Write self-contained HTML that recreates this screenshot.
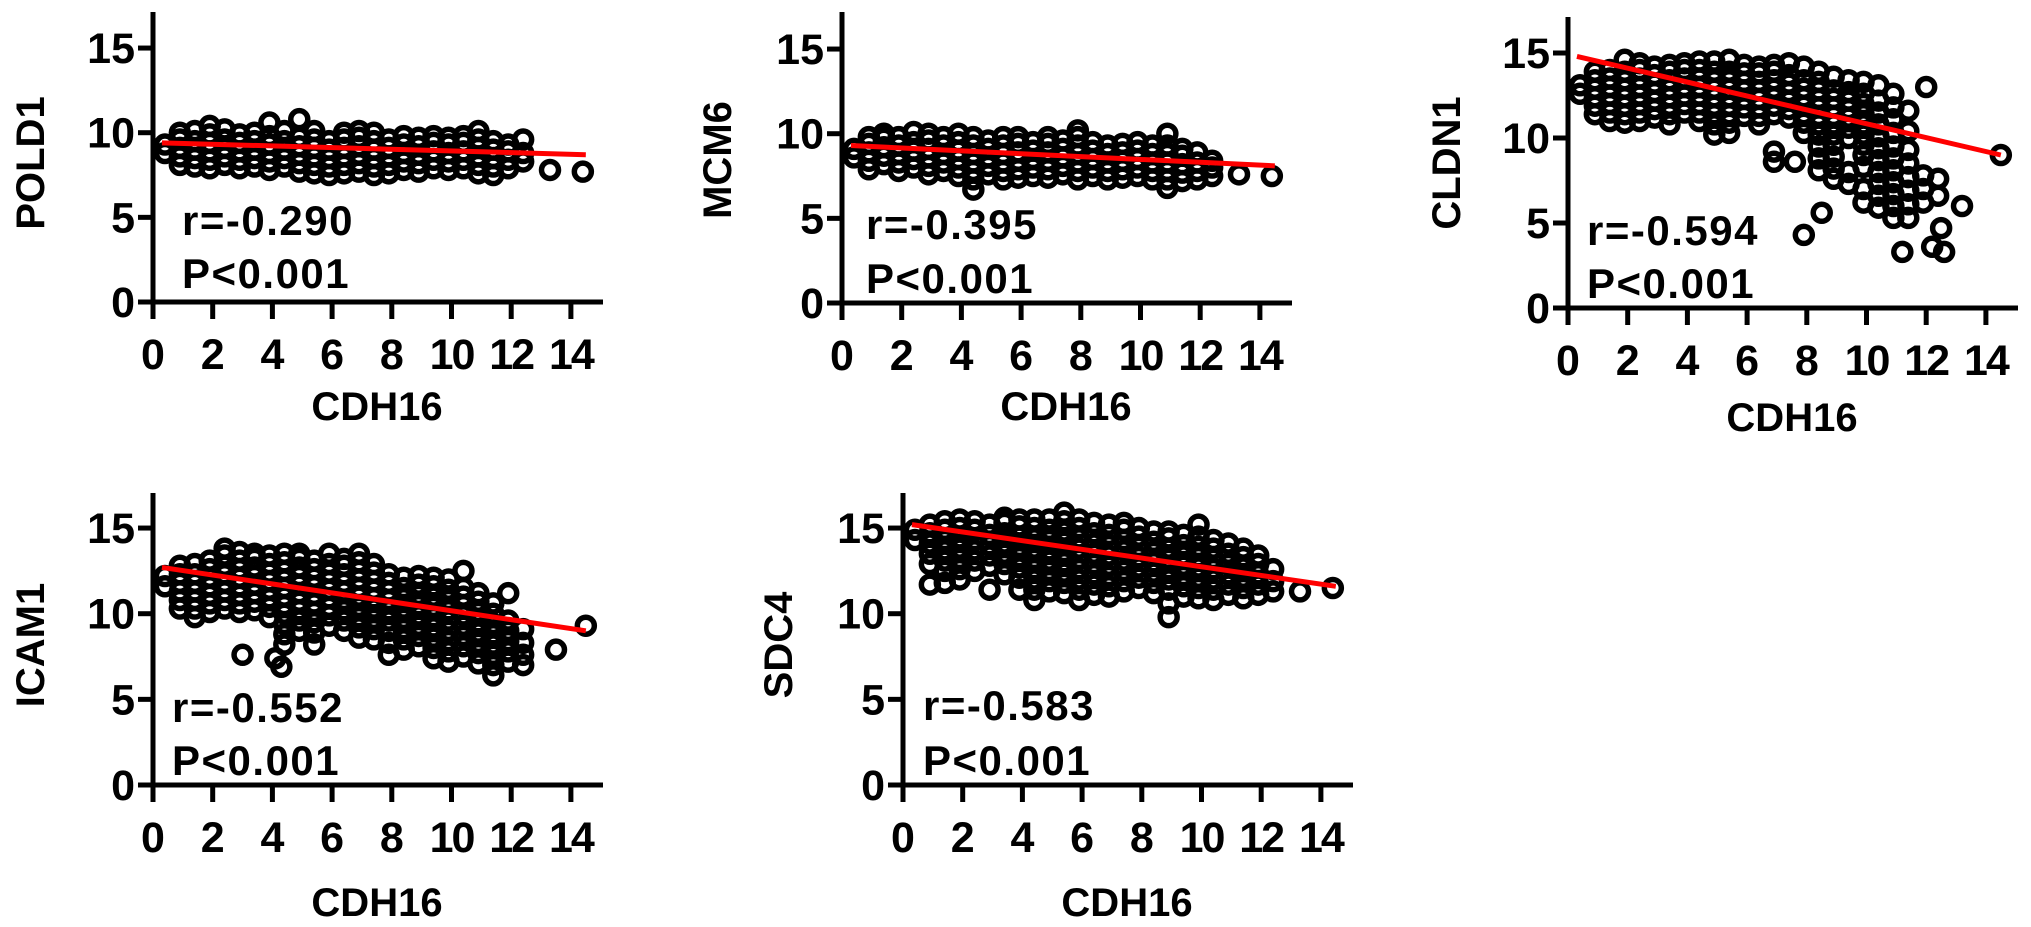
<!DOCTYPE html>
<html><head><meta charset="utf-8"><style>
html,body{margin:0;padding:0;background:#fff;width:2031px;height:927px;overflow:hidden}
svg{display:block}
text{font-family:"Liberation Sans",Arial,sans-serif;font-weight:bold;fill:#000}
</style></head><body>
<svg id="chart" width="2031" height="927" viewBox="0 0 2031 927" xmlns="http://www.w3.org/2000/svg"></svg>
<script>
// ---- shared data ----
const xTicks = [0,2,4,6,8,10,12,14];
const yTicks = [0,5,10,15];
const colX = [0.4,0.9,1.4,1.9,2.4,2.9,3.4,3.9,4.4,4.9,5.4,5.9,6.4,6.9,7.4,7.9,8.4,8.9,9.4,9.9,10.4,10.9,11.4,11.9,12.4];
const geneNames = ["POLD1","MCM6","CLDN1","ICAM1","SDC4"];
const rValues = ["-0.290","-0.395","-0.594","-0.552","-0.583"];
const pValues = ["P<0.001","P<0.001","P<0.001","P<0.001","P<0.001"];

// POLD1
const pold1Y = [[8.8,9.3],[8.1,8.6,9.1,9.6,10.0],[8.0,8.5,9.0,9.5,10.1],[7.9,8.4,8.9,9.4,9.9,10.4],[8.1,8.6,9.1,9.6,10.2],[7.9,8.4,8.9,9.4,9.9],[8.0,8.5,9.0,9.5,10.0],[7.8,8.3,8.8,9.3,9.8,10.6],[8.0,8.5,9.0,9.5,10.1],[7.7,8.2,8.7,9.2,9.7,10.8],[7.6,8.1,8.6,9.1,9.6,10.1],[7.5,8.0,8.5,9.0,9.5],[7.6,8.1,8.6,9.1,9.6,10.0],[7.7,8.2,8.7,9.2,9.7,10.1],[7.5,8.0,8.5,9.0,9.5,10.0],[7.6,8.1,8.6,9.1,9.6],[7.8,8.3,8.8,9.3,9.8],[7.7,8.2,8.7,9.2,9.7],[7.9,8.4,8.9,9.4,9.8],[7.8,8.3,8.8,9.3,9.7],[7.9,8.4,8.9,9.4,9.8],[7.6,8.1,8.6,9.1,9.6,10.1],[7.5,8.0,8.5,9.0,9.5],[7.9,8.4,8.9,9.3],[8.3,8.8,9.6]];
const pold1OutX = [13.3,14.4];
const pold1OutY = [7.8,7.7];
const pold1Fit = [0.3,9.4,14.5,8.7];

// MCM6
const mcm6Y = [[8.6,9.1],[7.9,8.4,8.9,9.4,9.8],[8.2,8.7,9.2,9.7,10.0],[7.8,8.3,8.8,9.3,9.8],[8.0,8.5,9.0,9.5,10.1],[7.6,8.1,8.6,9.1,9.6,10.0],[7.8,8.3,8.8,9.3,9.8],[7.5,8.0,8.5,9.0,9.5,10.0],[6.7,7.3,7.8,8.3,8.8,9.3,9.8],[7.6,8.1,8.6,9.1,9.6],[7.3,7.8,8.3,8.8,9.3,9.8],[7.4,7.9,8.4,8.9,9.4,9.8],[7.5,8.0,8.5,9.0,9.5],[7.4,7.9,8.4,8.9,9.4,9.8],[7.6,8.1,8.6,9.1,9.6],[7.3,7.8,8.3,8.8,9.3,9.8,10.2],[7.5,8.0,8.5,9.0,9.5],[7.3,7.8,8.3,8.8,9.3],[7.4,7.9,8.4,8.9,9.4],[7.5,8.0,8.5,9.0,9.5],[7.3,7.8,8.3,8.8,9.3],[6.8,7.3,7.8,8.3,8.8,9.3,10.0],[7.2,7.7,8.2,8.7,9.1],[7.3,7.8,8.3,8.9],[7.5,8.0,8.4]];
const mcm6OutX = [13.3,14.4];
const mcm6OutY = [7.6,7.5];
const mcm6Fit = [0.3,9.3,14.5,8.1];

// CLDN1
const cldn1Y = [[12.6,13.1],[11.4,11.9,12.4,12.9,13.4,13.9],[11.0,11.5,12.0,12.5,13.0,13.5,14.0],[10.9,11.4,11.9,12.4,12.9,13.4,13.9,14.6],[11.0,11.5,12.0,12.5,13.0,13.5,14.0,14.4],[11.2,11.7,12.2,12.7,13.2,13.7,14.2],[10.8,11.4,11.9,12.4,12.9,13.4,13.9,14.3],[11.5,12.0,12.5,13.0,13.5,14.0,14.4],[11.0,11.5,12.0,12.5,13.0,13.5,14.0,14.5],[10.2,10.8,11.4,11.9,12.4,12.9,13.4,13.9,14.5],[10.3,10.9,11.4,11.9,12.4,12.9,13.4,13.9,14.6],[11.3,11.8,12.3,12.8,13.3,13.8,14.3],[10.8,11.3,11.8,12.3,12.8,13.3,13.8,14.2],[8.6,9.2,11.4,11.9,12.4,12.9,13.4,13.9,14.3],[11.2,11.7,12.2,12.7,13.2,13.7,14.4],[10.3,10.9,11.4,11.9,12.4,12.9,13.4,14.2],[8.1,8.8,9.5,10.2,10.8,11.3,11.8,12.3,12.8,13.3,13.9],[7.6,8.2,8.9,9.6,10.2,10.8,11.3,11.8,12.3,12.8,13.6],[7.3,8.0,10.0,10.6,11.2,11.7,12.2,12.7,13.4],[6.2,7.0,8.3,9.0,9.6,10.2,10.8,11.4,12.0,12.6,13.3],[5.9,6.6,7.3,8.0,8.7,9.4,10.1,10.8,11.5,12.2,13.1],[5.3,6.0,6.7,7.4,8.1,8.8,9.5,10.3,11.1,11.8,12.6],[5.3,6.1,6.9,7.7,8.5,9.3,10.4,11.6],[6.2,7.0,7.8],[6.6,7.6]];
const cldn1OutX = [7.9,8.5,11.2,12.2,12.5,12.6,13.2,12.0,14.5,7.6];
const cldn1OutY = [4.3,5.6,3.3,3.6,4.7,3.3,6.0,13.0,9.0,8.6];
const cldn1Fit = [0.3,14.8,14.5,9.0];

// ICAM1
const icam1Y = [[11.6,12.2],[10.3,10.8,11.3,11.8,12.3,12.8],[9.8,10.3,10.8,11.3,11.8,12.3,12.9],[10.1,10.6,11.1,11.6,12.1,12.6,13.1],[10.3,10.8,11.3,11.8,12.3,12.8,13.4,13.8],[10.1,10.6,11.1,11.6,12.1,12.6,13.1,13.6],[10.2,10.7,11.2,11.7,12.2,12.7,13.2,13.5],[9.8,10.4,10.9,11.4,11.9,12.4,12.9,13.4],[8.2,8.8,9.4,10.0,10.5,11.0,11.5,12.0,12.5,13.0,13.5],[9.0,9.6,10.2,10.7,11.2,11.7,12.2,12.7,13.2,13.5],[8.2,8.9,9.5,10.1,10.6,11.1,11.6,12.1,12.6,13.1],[9.3,9.9,10.4,10.9,11.4,11.9,12.4,12.9,13.5],[9.0,9.6,10.2,10.8,11.3,11.8,12.3,12.8,13.2],[8.6,9.2,9.8,10.4,11.0,11.5,12.0,12.5,13.0,13.5],[8.5,9.1,9.7,10.3,10.9,11.4,11.9,12.4,12.9],[7.6,8.3,9.0,9.6,10.2,10.8,11.3,11.8,12.3],[7.9,8.5,9.1,9.7,10.3,10.9,11.5,12.1],[8.1,8.7,9.3,9.9,10.5,11.1,11.7,12.2],[7.4,8.0,8.6,9.2,9.8,10.4,11.0,11.6,12.1],[7.2,7.8,8.4,9.0,9.6,10.2,10.8,11.4,12.0],[7.5,8.1,8.7,9.3,9.9,10.5,11.0,11.5,12.5],[7.1,7.7,8.3,8.9,9.5,10.1,10.7,11.2],[6.4,7.0,7.6,8.2,8.8,9.4,10.0,10.6],[7.2,7.8,8.4,9.0,9.6,11.2],[7.0,7.6,8.3,9.1]];
const icam1OutX = [3.0,4.1,4.3,13.5,14.5];
const icam1OutY = [7.6,7.4,6.9,7.9,9.3];
const icam1Fit = [0.3,12.7,14.5,9.0];

// SDC4
const sdc4Y = [[14.3,14.9],[11.7,12.9,13.5,14.1,14.7,15.2],[11.8,12.5,13.1,13.7,14.3,14.9,15.4],[12.0,12.6,13.2,13.8,14.4,15.0,15.5],[12.5,13.1,13.7,14.3,14.9,15.4],[11.4,12.8,13.4,14.0,14.6,15.2],[12.3,12.9,13.5,14.1,14.7,15.3,15.6],[11.4,12.1,12.7,13.3,13.9,14.5,15.1,15.5],[10.8,11.4,12.0,12.6,13.2,13.8,14.4,15.0,15.5],[11.3,11.9,12.5,13.1,13.7,14.3,14.9,15.5],[11.2,11.8,12.4,13.0,13.6,14.2,14.8,15.4,15.9],[10.8,11.4,12.0,12.6,13.2,13.8,14.4,15.0,15.5],[11.1,11.7,12.3,12.9,13.5,14.1,14.7,15.3],[11.0,11.6,12.2,12.8,13.4,14.0,14.6,15.2],[11.3,11.9,12.5,13.1,13.7,14.3,14.9,15.3],[11.5,12.1,12.7,13.3,13.9,14.5,15.0],[11.2,11.8,12.4,13.0,13.6,14.2,14.8],[9.8,10.6,11.4,12.0,12.6,13.2,13.8,14.4,14.8],[11.0,11.6,12.2,12.8,13.4,14.0,14.6],[10.9,11.5,12.1,12.7,13.3,13.9,14.5,15.2],[10.8,11.4,12.0,12.6,13.2,13.8,14.3],[11.1,11.7,12.3,12.9,13.5,14.1],[10.9,11.5,12.1,12.7,13.3,13.8],[11.1,11.7,12.3,12.9,13.4],[11.3,11.9,12.6]];
const sdc4OutX = [13.3,14.4];
const sdc4OutY = [11.3,11.5];
const sdc4Fit = [0.3,15.2,14.5,11.6];

// ---- layout (pixels) ----
const panels = [
  {ox:153, oy:302, top:12, right:603, yu:16.93, ylab:[29,163], xlabY:405, tx:182, rY:235, pY:288, ys:pold1Y, ox2:pold1OutX, oy2:pold1OutY, fit:pold1Fit},
  {ox:842, oy:303, top:12, right:1292, yu:16.93, ylab:[716,160], xlabY:405, tx:866, rY:239, pY:293, ys:mcm6Y, ox2:mcm6OutX, oy2:mcm6OutY, fit:mcm6Fit},
  {ox:1568, oy:308, top:17, right:2018, yu:17.0, ylab:[1445,163], xlabY:416, tx:1587, rY:245, pY:298, ys:cldn1Y, ox2:cldn1OutX, oy2:cldn1OutY, fit:cldn1Fit},
  {ox:153, oy:785, top:493, right:603, yu:17.13, ylab:[29,645], xlabY:901, tx:172, rY:722, pY:775, ys:icam1Y, ox2:icam1OutX, oy2:icam1OutY, fit:icam1Fit},
  {ox:903, oy:785, top:493, right:1353, yu:17.13, ylab:[777,645], xlabY:901, tx:923, rY:720, pY:775, ys:sdc4Y, ox2:sdc4OutX, oy2:sdc4OutY, fit:sdc4Fit}
];
const XU = 29.85;
const NS = "http://www.w3.org/2000/svg";
const svg = document.getElementById('chart');
function mk(tag, parent){ const e=document.createElementNS(NS,tag); parent.appendChild(e); return e; }

panels.forEach((p, i) => {
  const gname = geneNames[i].toLowerCase();
  const xs = v => p.ox + v*XU;
  const ysc = v => p.oy - v*p.yu;
  const g = mk('g', svg);
  
  

  const pts = mk('g', g);
  
  
  const addPt = (x, y) => {
    const c = mk('circle', pts);
    
    
    c.setAttribute('cx', xs(x)); c.setAttribute('cy', ysc(y)); c.setAttribute('r', 8.5);
    c.setAttribute('fill', 'none'); c.setAttribute('stroke', '#000'); c.setAttribute('stroke-width', 5.5);
  };
  colX.forEach((x, k) => { (p.ys[k] || []).forEach(y => addPt(x, y)); });
  p.ox2.forEach((x, k) => addPt(x, p.oy2[k]));

  const ln = mk('line', g);
  
  
  ln.setAttribute('x1', xs(p.fit[0])); ln.setAttribute('y1', ysc(p.fit[1]));
  ln.setAttribute('x2', xs(p.fit[2])); ln.setAttribute('y2', ysc(p.fit[3]));
  ln.setAttribute('stroke', '#ff0000'); ln.setAttribute('stroke-width', 5);

  const ya = mk('line', g);
  
  
  ya.setAttribute('x1', p.ox); ya.setAttribute('y1', p.top); ya.setAttribute('x2', p.ox); ya.setAttribute('y2', p.oy + 17);
  ya.setAttribute('stroke', '#000'); ya.setAttribute('stroke-width', 5);
  const xa = mk('line', g);
  
  
  xa.setAttribute('x1', p.ox - 15); xa.setAttribute('y1', p.oy); xa.setAttribute('x2', p.right); xa.setAttribute('y2', p.oy);
  xa.setAttribute('stroke', '#000'); xa.setAttribute('stroke-width', 5);

  yTicks.forEach(t => {
    const tk = mk('line', g);
    
    
    tk.setAttribute('x1', p.ox - 15); tk.setAttribute('x2', p.ox); tk.setAttribute('y1', ysc(t)); tk.setAttribute('y2', ysc(t));
    tk.setAttribute('stroke', '#000'); tk.setAttribute('stroke-width', 5);
    const tl = mk('text', g);
    
    
    tl.setAttribute('x', p.ox - 18); tl.setAttribute('y', ysc(t) + 15);
    tl.setAttribute('text-anchor', 'end'); tl.setAttribute('font-size', 43);
    tl.textContent = t;
  });
  xTicks.forEach(t => {
    const tk = mk('line', g);
    
    
    tk.setAttribute('x1', xs(t)); tk.setAttribute('x2', xs(t)); tk.setAttribute('y1', p.oy); tk.setAttribute('y2', p.oy + 17);
    tk.setAttribute('stroke', '#000'); tk.setAttribute('stroke-width', 5);
    const tl = mk('text', g);
    
    
    tl.setAttribute('x', xs(t)); tl.setAttribute('y', p.oy + 67);
    tl.setAttribute('text-anchor', 'middle'); tl.setAttribute('font-size', 43);
    tl.setAttribute('letter-spacing', t >= 10 ? -2 : 0);
    tl.textContent = t;
  });

  const xt = mk('text', g);
  
  
  xt.setAttribute('x', p.ox + 224); xt.setAttribute('y', p.xlabY + 15);
  xt.setAttribute('text-anchor', 'middle'); xt.setAttribute('font-size', 40);
  xt.textContent = 'CDH16';

  const yt = mk('text', g);
  
  
  yt.setAttribute('x', 0); yt.setAttribute('y', 0);
  yt.setAttribute('transform', 'translate(' + (p.ylab[0] + 15) + ',' + p.ylab[1] + ') rotate(-90)');
  yt.setAttribute('text-anchor', 'middle'); yt.setAttribute('font-size', 40);
  yt.textContent = geneNames[i];

  const rt = mk('text', g);
  
  
  rt.setAttribute('x', p.tx); rt.setAttribute('y', p.rY);
  rt.setAttribute('font-size', 42); rt.setAttribute('letter-spacing', 1.5);
  rt.textContent = 'r=' + rValues[i];

  const pt = mk('text', g);
  
  
  pt.setAttribute('x', p.tx); pt.setAttribute('y', p.pY);
  pt.setAttribute('font-size', 42); pt.setAttribute('letter-spacing', 1.5);
  pt.textContent = pValues[i];
});
</script>
</body></html>
